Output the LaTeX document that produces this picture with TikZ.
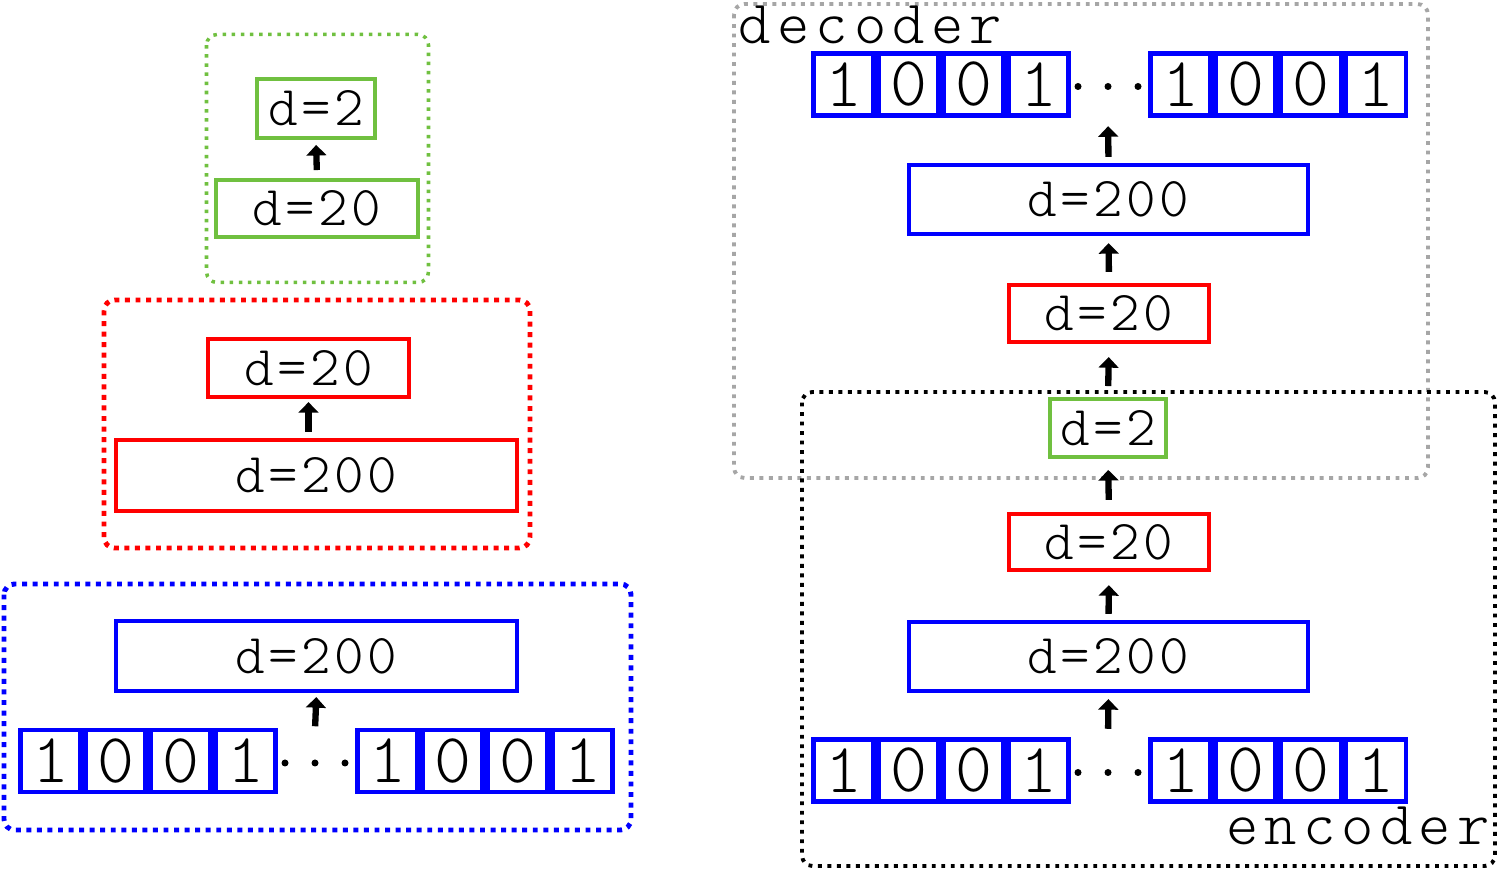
\documentclass[tikz,border=0pt]{standalone}
\usepackage{fontspec}
\usetikzlibrary{arrows.meta}
\newfontfamily\boxfont{lmmonolt10-regular.otf}[LetterSpace=6]
\newfontfamily\tagfont{lmmonolt10-regular.otf}[LetterSpace=10]
\definecolor{lgreen}{RGB}{112,192,64}
\definecolor{dgray}{RGB}{166,166,166}
\tikzset{
  layer/.style={draw, line width=1.2pt, inner sep=0pt, font=\boxfont\fontsize{16}{16}\selectfont},
  bit/.style={draw=blue, line width=1.3pt, minimum width=0.605cm, minimum height=0.62cm, inner sep=0pt, outer sep=0pt, font=\boxfont\fontsize{20}{20}\selectfont},
  dotsbox/.style={minimum width=0.7cm, minimum height=0.62cm, inner sep=0pt},
  up/.style={-{Triangle[width=5.6pt,length=3pt]}, line width=1.8pt},
  group/.style={rounded corners=3pt, line width=#1, dash pattern=on #1 off 1.6pt},
  tag/.style={inner sep=0pt, font=\tagfont\fontsize{17.5}{17.5}\selectfont}
}
\begin{document}
\begin{tikzpicture}[x=0.01cm, y=-0.01cm]
  \useasboundingbox (0,0) rectangle (1500,871);
  % groups
  \draw[lgreen, group=1pt] (206.5,34.5) rectangle (428.5,282.5);
  \draw[red, group=1.4pt] (104,300) rectangle (530,548);
  \draw[blue, group=1.4pt] (4,584) rectangle (631,830);
  \draw[dgray, group=1.1pt] (734,4) rectangle (1428,478);
  \draw[black, group=1.1pt] (802,392) rectangle (1495,866);
  \node[tag, anchor=base west] (dec) at (738,44) {decoder};
  \node[tag, anchor=base east] (enc) at (1490,845) {encoder};
  % left column
  \node[layer, draw=lgreen, line width=1.1pt, minimum width=1.18cm, minimum height=0.59cm] (lg2) at (316,108.5) {d=2};
  \node[layer, draw=lgreen, line width=1.1pt, minimum width=2.02cm, minimum height=0.57cm] (lg20) at (317,208.5) {d=20};
  \node[layer, draw=red, minimum width=2.01cm, minimum height=0.58cm] (lr20) at (308.5,368) {d=20};
  \node[layer, draw=red, minimum width=4.01cm, minimum height=0.71cm] (lr200) at (316.5,475.5) {d=200};
  \node[layer, draw=blue, minimum width=4.01cm, minimum height=0.70cm] (lb200) at (316.5,656) {d=200};
  % right column
  \node[layer, draw=blue, minimum width=3.99cm, minimum height=0.69cm] (dd200) at (1108.5,199.5) {d=200};
  \node[layer, draw=red, minimum width=2.00cm, minimum height=0.57cm] (dr20) at (1109,313.5) {d=20};
  \node[layer, draw=lgreen, line width=1.1pt, minimum width=1.16cm, minimum height=0.58cm] (eg2) at (1108,428) {d=2};
  \node[layer, draw=red, minimum width=2.00cm, minimum height=0.56cm] (er20) at (1109,542) {d=20};
  \node[layer, draw=blue, minimum width=3.99cm, minimum height=0.69cm] (eb200) at (1108.5,656.5) {d=200};
  % bit rows
  \foreach \side/\x/\y in {l/18/761, d/811/84.5, e/811/770.5} {
    \foreach \i/\b in {0/1,1/0,2/0,3/1} {
      \node[bit] (\side a\i) at ({\x+32.5+65*\i},\y) {\b};
      \node[bit] (\side b\i) at ({\x+369.5+65*\i},\y) {\b};
    }
    \node[dotsbox] (\side dots) at ({\x+297},\y) {};
    \foreach \k in {-30,0,30}
      \fill ([xshift=\k*0.01cm, yshift=-0.02cm]\side dots.center) circle (3.5);
  }
  % arrows
  \draw[up, shorten <=0.08cm, shorten >=0.05cm] (lg20.north) -- (lg2.south);
  \draw[up, shorten <=0.06cm, shorten >=0.03cm] (lr20.south |- lr200.north) -- (lr20.south);
  \draw[up, shorten <=0.03cm, shorten >=0.04cm] (ldots.north) -- (lb200.south);
  \draw[up, shorten <=0.10cm, shorten >=0.06cm] (edots.north) -- (eb200.south);
  \draw[up, shorten <=0.06cm, shorten >=0.13cm] (eb200.north) -- (er20.south);
  \draw[up, shorten <=0.12cm, shorten >=0.11cm] (er20.north) -- (eg2.south);
  \draw[up, shorten <=0.11cm, shorten >=0.13cm] (eg2.north) -- (dr20.south);
  \draw[up, shorten <=0.11cm, shorten >=0.07cm] (dr20.north) -- (dd200.south);
  \draw[up, shorten <=0.06cm, shorten >=0.10cm] (dd200.north) -- (ddots.south);
\end{tikzpicture}
\end{document}
